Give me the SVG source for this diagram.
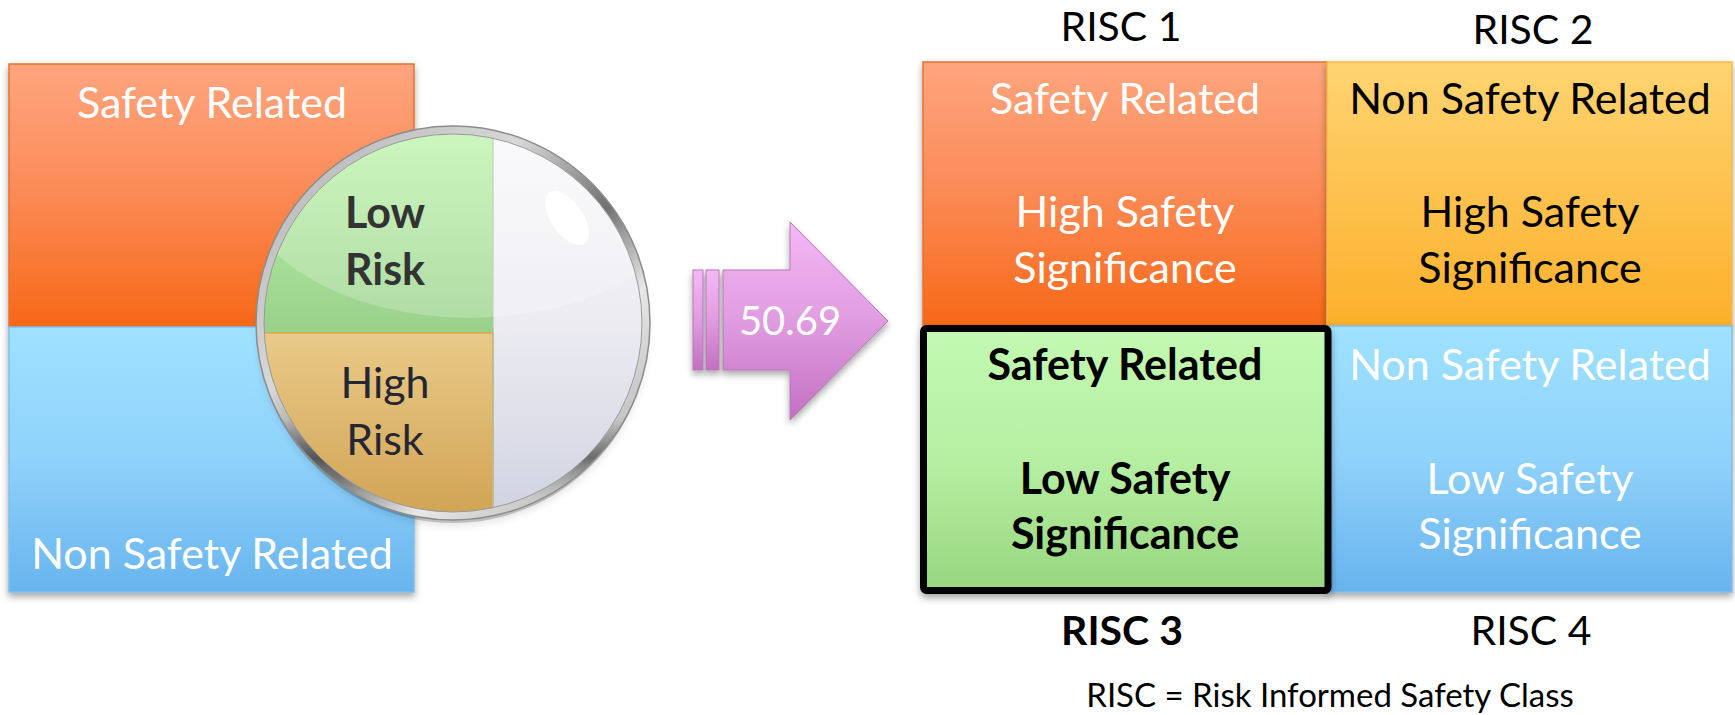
<svg xmlns="http://www.w3.org/2000/svg" width="1735" height="715" viewBox="0 0 1735 715">
<style>
.t{font-family:Lato,"Liberation Sans",sans-serif;text-anchor:middle}
.big{font-size:43px}
.lbl{font-size:41px;fill:#000}
.w{fill:#fff}
.k{fill:#000}
.b{font-weight:bold}
.foot{font-size:33px;fill:#000}
</style>
<defs>
<filter id="sh" x="-10%" y="-10%" width="120%" height="125%">
<feDropShadow dx="0" dy="4" stdDeviation="3.5" flood-color="#000" flood-opacity="0.35"/>
</filter>
<linearGradient id="gOr" x1="0" y1="0" x2="0" y2="1"><stop offset="0" stop-color="#fea57f"/><stop offset="0.45" stop-color="#fb8d5a"/><stop offset="1" stop-color="#f76817"/></linearGradient>
<linearGradient id="gBl" x1="0" y1="0" x2="0" y2="1"><stop offset="0" stop-color="#9fe1ff"/><stop offset="0.5" stop-color="#8fd2fa"/><stop offset="1" stop-color="#68b4ee"/></linearGradient>
<linearGradient id="gYe" x1="0" y1="0" x2="0" y2="1"><stop offset="0" stop-color="#fed472"/><stop offset="1" stop-color="#fcb02a"/></linearGradient>
<linearGradient id="gGr" x1="0" y1="0" x2="0" y2="1"><stop offset="0" stop-color="#c3f9b2"/><stop offset="0.5" stop-color="#b6efa2"/><stop offset="1" stop-color="#98d67f"/></linearGradient>
<linearGradient id="gCg" x1="0" y1="0" x2="0" y2="1"><stop offset="0" stop-color="#c1f6ae"/><stop offset="1" stop-color="#98d18a"/></linearGradient>
<linearGradient id="gTan" x1="0" y1="0" x2="0" y2="1"><stop offset="0" stop-color="#e9ca88"/><stop offset="1" stop-color="#cfa050"/></linearGradient>
<linearGradient id="gGlass" x1="0" y1="0" x2="0" y2="1"><stop offset="0" stop-color="#fafafc"/><stop offset="0.5" stop-color="#ebebf1"/><stop offset="1" stop-color="#cfd1e0"/></linearGradient>
<linearGradient id="gRim" x1="0" y1="0" x2="1" y2="1"><stop offset="0" stop-color="#b0b0b0"/><stop offset="0.35" stop-color="#d8d8d8"/><stop offset="0.55" stop-color="#707070"/><stop offset="0.7" stop-color="#e8e8e8"/><stop offset="1" stop-color="#a0a0a0"/></linearGradient>
<linearGradient id="gRim2" x1="0" y1="0" x2="0" y2="1"><stop offset="0" stop-color="#ffffff" stop-opacity="0"/><stop offset="0.75" stop-color="#303030" stop-opacity="0"/><stop offset="0.85" stop-color="#303030" stop-opacity="0.6"/><stop offset="1" stop-color="#ffffff" stop-opacity="0"/></linearGradient>
<linearGradient id="gArr" x1="0" y1="0" x2="0" y2="1"><stop offset="0" stop-color="#f4b8f4"/><stop offset="0.5" stop-color="#e09ce0"/><stop offset="1" stop-color="#c270c0"/></linearGradient>
<clipPath id="lens"><circle cx="453" cy="323" r="190"/></clipPath>
</defs>

<g id="left-box" filter="url(#sh)">
<rect x="9" y="64" width="405" height="263" fill="url(#gOr)" stroke="#e8722c" stroke-width="1.5"/>
<rect x="9" y="327" width="405" height="265" fill="url(#gBl)" stroke="#7ebfee" stroke-width="1.5"/>
</g>
<g id="left-box-text">
<text class="t big w" x="212" y="118">Safety Related</text>
<text class="t big w" x="212" y="569">Non Safety Related</text>
</g>

<g id="magnifier">
<circle cx="453" cy="327" r="196" fill="#000" opacity="0.25" filter="url(#sh)"/>
<g clip-path="url(#lens)">
<rect x="250" y="120" width="410" height="410" fill="url(#gGlass)"/>
<rect x="250" y="120" width="243" height="213" fill="url(#gCg)"/>
<rect x="250" y="333" width="243" height="200" fill="url(#gTan)" stroke="#e3a24a" stroke-width="1.5"/>
<line x1="493" y1="120" x2="493" y2="530" stroke="#a9c8a5" stroke-width="1.2"/>
<ellipse cx="470" cy="175" rx="232" ry="143" fill="#fff" opacity="0.22"/>
<ellipse cx="567" cy="218" rx="16" ry="31" transform="rotate(-35 567 218)" fill="#fff" opacity="0.95"/>
</g>
<circle cx="453" cy="323" r="193" fill="none" stroke="url(#gRim)" stroke-width="8"/>
<circle cx="453" cy="323" r="193" fill="none" stroke="url(#gRim2)" stroke-width="8"/>
<circle cx="453" cy="323" r="197" fill="none" stroke="#8c8c8c" stroke-width="1.5"/>
<circle cx="453" cy="323" r="189" fill="none" stroke="#9a9a9a" stroke-width="1"/>
<text class="t big b" x="385" y="228" fill="#333">Low</text>
<text class="t big b" x="385" y="285" fill="#333">Risk</text>
<text class="t big" x="385" y="398" fill="#262633">High</text>
<text class="t big" x="385" y="455" fill="#262633">Risk</text>
</g>

<g id="connectors">
<g id="arrow" filter="url(#sh)">
<rect x="693" y="270" width="10" height="100" fill="url(#gArr)" stroke="#b478b4" stroke-width="1"/>
<rect x="706" y="270" width="13" height="100" fill="url(#gArr)" stroke="#b478b4" stroke-width="1"/>
<path d="M723 270 H790 V222 L888 321 L790 420 V370 H723 Z" fill="url(#gArr)" stroke="#b478b4" stroke-width="1"/>
</g>
<text class="t" x="790" y="335" style="font-size:40px" fill="#fff">50.69</text>
</g>

<g id="risc1">
<rect x="923" y="62" width="404" height="264" fill="url(#gOr)" stroke="#e8722c" stroke-width="1.5" filter="url(#sh)"/>
<text class="t big w" x="1125" y="114">Safety Related</text>
<text class="t big w" x="1125" y="227">High Safety</text>
<text class="t big w" x="1125" y="283">Significance</text>
<text class="t lbl" x="1121" y="41">RISC 1</text>
</g>
<g id="risc2">
<rect x="1327" y="62" width="405" height="264" fill="url(#gYe)" stroke="#f6b84a" stroke-width="1.5" filter="url(#sh)"/>
<text class="t big k" x="1530" y="114">Non Safety Related</text>
<text class="t big k" x="1530" y="227">High Safety</text>
<text class="t big k" x="1530" y="283">Significance</text>
<text class="t lbl" x="1533" y="44">RISC 2</text>
</g>
<g id="risc4">
<rect x="1327" y="326" width="405" height="266" fill="url(#gBl)" stroke="#7ebfee" stroke-width="1.5" filter="url(#sh)"/>
<text class="t big w" x="1530" y="380">Non Safety Related</text>
<text class="t big w" x="1530" y="494">Low Safety</text>
<text class="t big w" x="1530" y="549">Significance</text>
<text class="t lbl" x="1531" y="645">RISC 4</text>
</g>
<g id="risc3">
<rect x="923.5" y="328.5" width="404.5" height="262" rx="3" fill="url(#gGr)" stroke="#000" stroke-width="7" filter="url(#sh)"/>
<text class="t big k b" x="1125" y="380">Safety Related</text>
<text class="t big k b" x="1125" y="494">Low Safety</text>
<text class="t big k b" x="1125" y="549">Significance</text>
<text class="t lbl b" x="1122" y="645">RISC 3</text>
</g>

<g id="footnote">
<text class="t foot" x="1330" y="707">RISC = Risk Informed Safety Class</text>
</g>
</svg>
